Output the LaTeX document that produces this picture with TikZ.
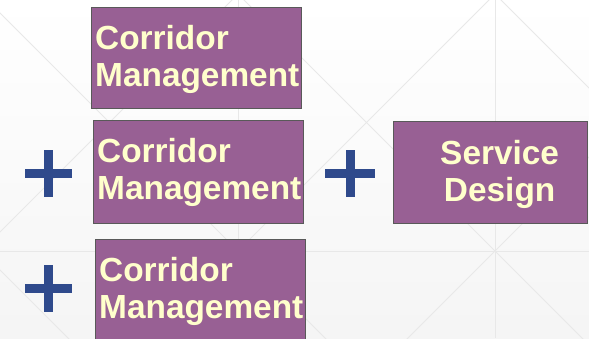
\documentclass[tikz,border=0pt]{standalone}
\usepackage{fontspec}
\setmainfont{Liberation Sans}
\definecolor{boxpurple}{RGB}{152,96,148}
\definecolor{boxtext}{RGB}{255,255,204}
\definecolor{plusblue}{RGB}{47,74,140}
\definecolor{bglinecol}{RGB}{232,232,232}
\begin{document}
\begin{tikzpicture}[x=1pt,y=-1pt,
  bgline/.style={draw=bglinecol, line width=0.8pt},
  boxfont/.style={text=boxtext, font=\fontsize{33.4}{37}\selectfont\bfseries},
  cbox/.style={draw=black!65, line width=1.3pt, fill=boxpurple,
    minimum width=210pt, minimum height=101pt, anchor=north west, inner sep=0pt},
  ctext/.style={boxfont, align=left, inner sep=0pt, anchor=north west},
  sdtext/.style={boxfont, align=center, inner sep=0pt, anchor=north},
  plusbar/.style={draw=plusblue, line width=9pt}]
\useasboundingbox (0,0) rectangle (589,338);
\clip (0,0) rectangle (589,338);
% background
\shade[top color=white, bottom color=black!4] (0,0) rectangle (589,338);
\foreach \c in {-270,-13,244,501}{
  \draw[bgline] (\c-100,-100) -- (\c+500,500);}
\foreach \s in {232,489,746,1003}{
  \draw[bgline] (\s+100,-100) -- (\s-500,500);}
\draw[bgline] (238,0) -- (238,338);
\draw[bgline] (495,0) -- (495,338);
\draw[bgline] (0,251) -- (589,251);
% boxes
\node[cbox] (c1) at (91,7) {};
\node[cbox, minimum height=103pt] (c2) at (93,120) {};
\node[cbox, minimum height=102pt] (c3) at (95,239) {};
\node[cbox, minimum width=194pt, minimum height=102pt] (sd) at (393,121) {};
\node[ctext] (t1) at ([xshift=4pt, yshift=-18.5pt]c1.north west) {Corridor\\Management};
\node[ctext] (t2) at ([xshift=4pt, yshift=-18.5pt]c2.north west) {Corridor\\Management};
\node[ctext] (t3) at ([xshift=4pt, yshift=-18.5pt]c3.north west) {Corridor\\Management};
\node[sdtext] (t4) at ([xshift=9pt, yshift=-19pt]sd.north) {Service\\Design};
% plus signs
\foreach \px/\py/\h in {48.5/173.5/23.5, 48.5/288.5/23.5, 350/173.5/25}{
  \draw[plusbar] (\px-\h,\py) -- (\px+\h,\py);
  \draw[plusbar] (\px,\py-23.5) -- (\px,\py+23.5);}
\end{tikzpicture}
\end{document}
